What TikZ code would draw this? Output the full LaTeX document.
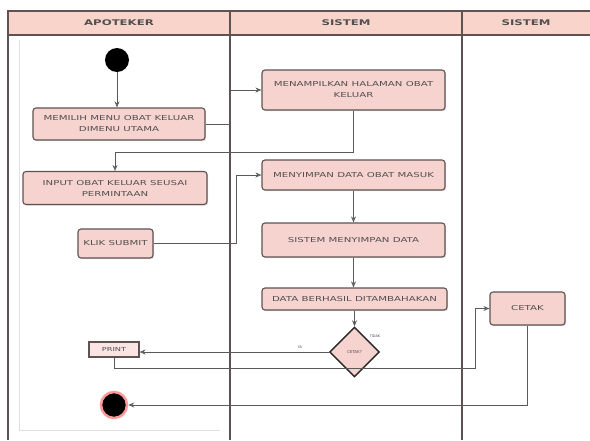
\documentclass[tikz,border=0pt]{standalone}
\usepackage{fontspec}
\setmainfont{DejaVu Sans}
\newfontfamily\widefont[FakeStretch=1.5]{DejaVu Sans}
\usetikzlibrary{arrows.meta,shapes.geometric,shadows}
\definecolor{boxfill}{HTML}{F6D3CE}
\definecolor{boxline}{HTML}{5E5252}
\definecolor{headfill}{HTML}{F9D4CB}
\definecolor{wire}{HTML}{5A5A5A}
\definecolor{txt}{HTML}{505050}
\tikzset{
  act/.style={draw=boxline, line width=1.1pt, fill=boxfill, rounded corners=3pt,
    align=center, font=\widefont\fontsize{6.8}{11}\selectfont, text=txt, inner sep=1pt,
    drop shadow={shadow xshift=1.2pt, shadow yshift=-1.2pt, opacity=0.25}},
  flow/.style={draw=wire, line width=0.8pt, -{Stealth[length=6pt,width=5pt,open]}},
  lane/.style={draw=boxline, line width=1.2pt},
  headtxt/.style={font=\widefont\bfseries\fontsize{7.8}{10}\selectfont, text=txt},
  guard/.style={font=\fontsize{3.5}{4}\selectfont, text=txt}
}
\begin{document}
\begin{tikzpicture}[x=1pt,y=-1pt]
\useasboundingbox (0,0) rectangle (590,440);
\fill[white] (0,0) rectangle (590,440);

% swimlanes
\fill[headfill] (8,11) rectangle (590,35);
\draw[lane] (590,11) -- (8,11) -- (8,440);
\draw[lane] (8,35) -- (590,35);
\draw[lane] (230,11) -- (230,440);
\draw[lane] (462,11) -- (462,440);
\draw[black!12, line width=0.5pt] (19,40) -- (19,430) -- (220,430);
\node[headtxt] (h1) at (119,23) {APOTEKER};
\node[headtxt] (h2) at (346,23) {SISTEM};
\node[headtxt] (h3) at (526,23) {SISTEM};

% start and end
\node[circle, fill=black, minimum size=24pt, inner sep=0pt] (start) at (117,60) {};
\node[circle, fill=black, draw=pink!80!red, line width=2.5pt, minimum size=26pt, inner sep=0pt] (end) at (114,405) {};

% activities
\node[act, minimum width=172pt, minimum height=32pt] (memilih) at (119,124) {MEMILIH  MENU OBAT KELUAR\\DIMENU UTAMA};
\node[act, minimum width=184pt, minimum height=33pt] (input) at (115,188) {INPUT OBAT KELUAR SEUSAI\\PERMINTAAN};
\node[act, minimum width=75pt, minimum height=29pt] (klik) at (115.5,243.5) {KLIK SUBMIT};
\node[act, minimum width=183pt, minimum height=40pt] (tampil) at (353.5,90) {MENAMPILKAN HALAMAN  OBAT\\KELUAR};
\node[act, minimum width=183pt, minimum height=30pt] (simpan) at (353.5,175) {MENYIMPAN DATA OBAT MASUK};
\node[act, minimum width=183pt, minimum height=34pt] (sistem) at (353.5,240) {SISTEM MENYIMPAN DATA};
\node[act, minimum width=185pt, minimum height=22pt] (berhasil) at (354.5,299) {DATA BERHASIL DITAMBAHAKAN};
\node[act, minimum width=75pt, minimum height=33pt] (cetak) at (527.5,308.5) {CETAK};
\node[act, rounded corners=0pt, fill=boxfill!60, minimum width=50pt, minimum height=15pt,
      font=\widefont\fontsize{5.5}{6}\selectfont] (print) at (114,349.5) {PRINT};
\node[diamond, draw=black!85, line width=1.4pt, fill=boxfill, minimum width=50pt, minimum height=50pt,
      inner sep=0pt, font=\fontsize{4}{5}\selectfont, text=txt] (tanya) at (354.5,352) {CETAK?};

% flows
\draw[flow] (start) -- (start |- memilih.north);
\draw[flow] (memilih.east) -| (230,90) -- (tampil.west);
\draw[flow] (tampil.south) |- (115,152) -- (input.north);
\draw[flow] (klik.east) -| (236,175) -- (simpan.west);
\draw[flow] (simpan) -- (sistem);
\draw[flow] (sistem.south) -- (sistem.south |- berhasil.north);
\draw[flow] (berhasil) -- (tanya);
\draw[flow] (tanya.west) -- (print.east |- tanya.west);
\draw[flow] (print.south) |- (475,368) |- (cetak.west);
\draw[flow] (cetak.south) |- (end.east);

% guards
\node[guard] (ya) at (300,347) {YA};
\node[guard] (tidak) at (375,336) {TIDAK};
\end{tikzpicture}
\end{document}
